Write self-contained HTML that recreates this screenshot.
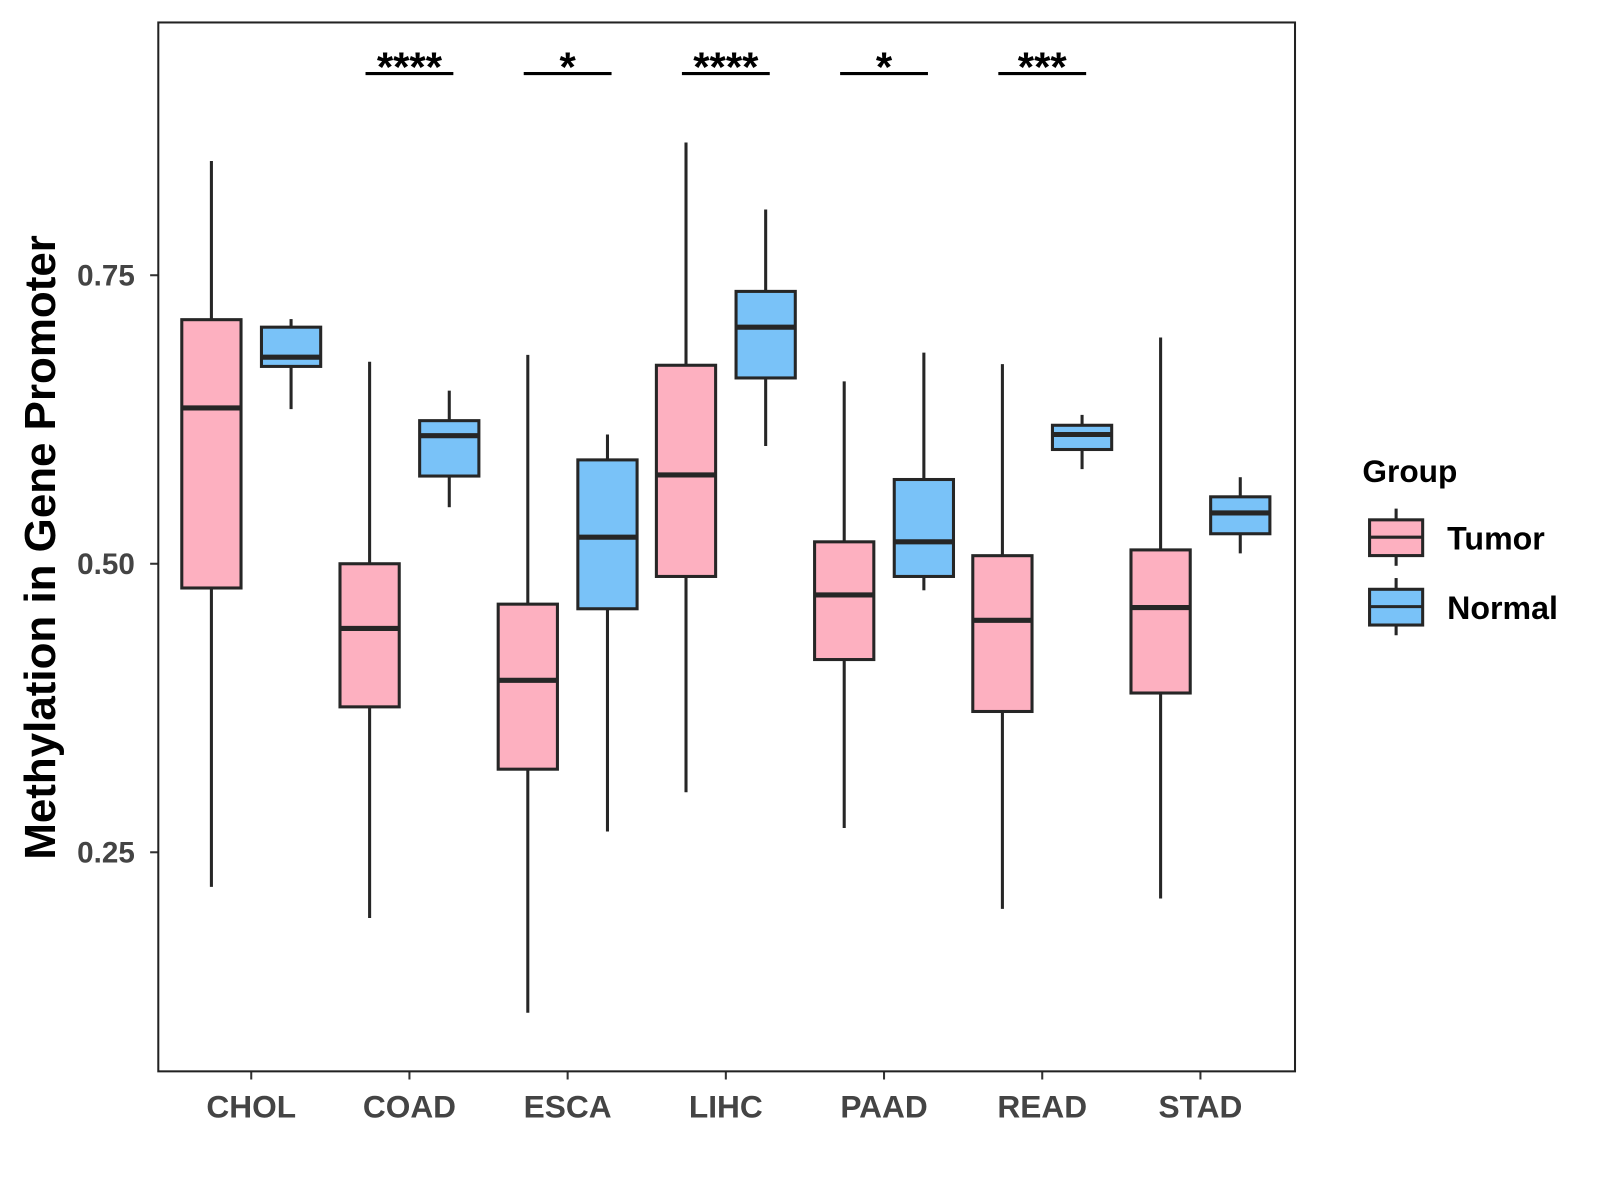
<!DOCTYPE html>
<html><head><meta charset="utf-8"><style>
html,body{margin:0;padding:0;background:#fff;}
svg{display:block;font-family:"Liberation Sans",Arial,sans-serif;}
</style></head><body>
<svg id="chart" width="1600" height="1200" viewBox="0 0 1600 1200" xmlns="http://www.w3.org/2000/svg">
<rect x="0" y="0" width="1600" height="1200" fill="#fff"/>
<g transform="scale(1.0213)">
<g id="marks"></g>
<rect x="155" y="22" width="1113" height="1027" fill="none" stroke="#222" stroke-width="2"/>
<text transform="translate(54,536) rotate(-90)" text-anchor="middle" font-size="43" font-weight="bold" fill="#000">Methylation in Gene Promoter</text>
<g>
<text x="1334" y="472" font-size="31" font-weight="bold">Group</text>
<g>
<line x1="1367" y1="498" x2="1367" y2="554" stroke="#262626" stroke-width="3"/>
<rect x="1341" y="509" width="52" height="35" fill="#FDB0C0" stroke="#262626" stroke-width="3"/>
<line x1="1341" y1="526" x2="1393" y2="526" stroke="#262626" stroke-width="3"/>
<text x="1417" y="538" font-size="31.5" font-weight="bold">Tumor</text>
</g>
<g>
<line x1="1367" y1="566" x2="1367" y2="622" stroke="#262626" stroke-width="3"/>
<rect x="1341" y="577" width="52" height="35" fill="#79C2F8" stroke="#262626" stroke-width="3"/>
<line x1="1341" y1="594" x2="1393" y2="594" stroke="#262626" stroke-width="3"/>
<text x="1417" y="606" font-size="31.5" font-weight="bold">Normal</text>
</g>
</g>
</g>
</svg>
<script>
const categories = ["CHOL","COAD","ESCA","LIHC","PAAD","READ","STAD"];
// [lowerWhisker, Q1, median, Q3, upperWhisker]
const tumorStats = [
 [0.220,0.479,0.635,0.7115,0.849],
 [0.193,0.376,0.444,0.500,0.675],
 [0.111,0.322,0.399,0.465,0.681],
 [0.302,0.489,0.577,0.672,0.865],
 [0.271,0.417,0.473,0.519,0.658],
 [0.201,0.372,0.451,0.507,0.673],
 [0.210,0.388,0.462,0.512,0.696]
];
const normalStats = [
 [0.634,0.671,0.679,0.705,0.712],
 [0.549,0.576,0.611,0.624,0.650],
 [0.268,0.461,0.523,0.590,0.612],
 [0.602,0.661,0.705,0.736,0.807],
 [0.477,0.489,0.519,0.573,0.683],
 [0.582,0.599,0.612,0.620,0.629],
 [0.509,0.526,0.544,0.558,0.575]
];
const significance = ["","****","*","****","*","***",""];
const yTicks = [0.25,0.50,0.75];
const yTickLabels = ["0.25","0.50","0.75"];

const NS="http://www.w3.org/2000/svg";
const g=document.getElementById('marks');
function yScale(v){return 552-(v-0.5)*1130;}
function xScale(i){return 246+i*154.9;}
function mk(tag,attrs,parent){const e=document.createElementNS(NS,tag);for(const k in attrs)e.setAttribute(k,attrs[k]);(parent||g).appendChild(e);return e;}

yTicks.forEach((t,i)=>{
 const y=yScale(t);
 const l=mk('line',{x1:147,x2:155,y1:y,y2:y,stroke:'#333','stroke-width':2});
 
 
 const tx=mk('text',{x:132,y:y+10,'text-anchor':'end','font-size':29,'font-weight':'bold',fill:'#444'});
 tx.textContent=yTickLabels[i];
 
 
});
categories.forEach((c,i)=>{
 const x=xScale(i);
 const l=mk('line',{x1:x,x2:x,y1:1049,y2:1057,stroke:'#333','stroke-width':2});
 
 
 const tx=mk('text',{x:x,y:1094,'text-anchor':'middle','font-size':31,'font-weight':'bold',fill:'#444'});
 tx.textContent=c;
 
 
});
function box(s,cx,fill,name){
 const grp=mk('g',{});
 
 
 const hw=29;
 mk('line',{x1:cx,x2:cx,y1:yScale(s[4]),y2:yScale(s[3]),stroke:'#262626','stroke-width':3},grp);
 mk('line',{x1:cx,x2:cx,y1:yScale(s[1]),y2:yScale(s[0]),stroke:'#262626','stroke-width':3},grp);
 mk('rect',{x:cx-hw,y:yScale(s[3]),width:2*hw,height:yScale(s[1])-yScale(s[3]),fill:fill,stroke:'#262626','stroke-width':3},grp);
 mk('line',{x1:cx-hw,x2:cx+hw,y1:yScale(s[2]),y2:yScale(s[2]),stroke:'#262626','stroke-width':5},grp);
}
categories.forEach((c,i)=>{
 const x=xScale(i);
 box(tumorStats[i],x-39,'#FDB0C0','box-tumor-'+c.toLowerCase());
 box(normalStats[i],x+39,'#79C2F8','box-normal-'+c.toLowerCase());
 if(significance[i]){
  const l=mk('line',{x1:x-43,x2:x+43,y1:72,y2:72,stroke:'#000','stroke-width':3});
  
  
  const t=mk('text',{x:x,y:80,'text-anchor':'middle','font-size':41,'font-weight':'bold'});
  t.textContent=significance[i];
  
  
 }
});
</script>
</body></html>
